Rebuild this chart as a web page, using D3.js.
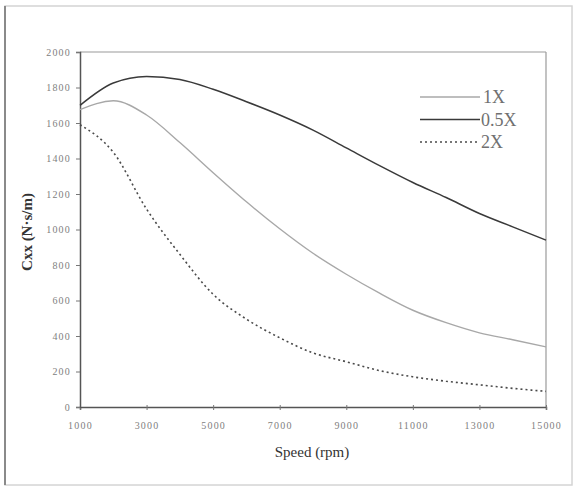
<!DOCTYPE html>
<html>
<head>
<meta charset="utf-8">
<script src="https://cdn.jsdelivr.net/npm/d3@7"></script>
<style>
  body { margin: 0; background: #fff; }
  svg { display: block; font-family: "Liberation Serif", "DejaVu Serif", serif; }
</style>
</head>
<body>
<div id="chart"></div>
<script>
(function () {

  // Data
  const speeds = [1000, 2000, 3000, 4000, 5000, 6000, 7000, 8000, 9000, 10000, 11000, 12000, 13000, 14000, 15000]
  const c1x  = [1675, 1725, 1645, 1490, 1320, 1156, 1004, 866, 748, 641, 545, 475, 418, 379, 339]
  const c05x = [1699, 1825, 1862, 1845, 1790, 1720, 1645, 1560, 1460, 1360, 1265, 1180, 1090, 1015, 940]
  const c2x  = [1590, 1435, 1115, 860, 635, 495, 390, 305, 255, 205, 170, 145, 125, 105, 88]
  const xTicks = [1000, 3000, 5000, 7000, 9000, 11000, 13000, 15000]
  const yTicks = [0, 200, 400, 600, 800, 1000, 1200, 1400, 1600, 1800, 2000]

  const series = [
    { name: "1X",   values: c1x,  color: "#a8a8a8", width: 1.4, dash: null },
    { name: "0.5X", values: c05x, color: "#3a3a3a", width: 1.5, dash: null },
    { name: "2X",   values: c2x,  color: "#4a4a4a", width: 1.6, dash: "2,3" }
  ]

  // Margin convention
  const margin = { top: 52, right: 28, bottom: 80, left: 80 }
  const W = 574, H = 487
  const width = W - margin.left - margin.right
  const height = H - margin.top - margin.bottom

  const root = d3.select("#chart").append("svg")
      .attr("width", W)
      .attr("height", H)

  // outer frame
  root.append("rect")
      .attr("x", 5).attr("y", 6)
      .attr("width", 567).attr("height", 479)
      .attr("fill", "none")
      .attr("stroke", "#d4d4d4")
      .attr("stroke-width", 1.5)
  root.append("line")
      .attr("x1", 5).attr("x2", 5).attr("y1", 6).attr("y2", 485)
      .attr("stroke", "#8a8a8a").attr("stroke-width", 2)

  const svg = root.append("g")
      .attr("transform", "translate(" + margin.left + "," + margin.top + ")")

  const x = d3.scaleLinear().domain([1000, 15000]).range([0, width])
  const y = d3.scaleLinear().domain([0, 2000]).range([height, 0])

  // plot box (top & right lighter)
  svg.append("line")
      .attr("x1", 0).attr("x2", width).attr("y1", 0).attr("y2", 0)
      .attr("stroke", "#9a9a9a").attr("stroke-width", 1.2)
  svg.append("line")
      .attr("x1", width).attr("x2", width).attr("y1", 0).attr("y2", height)
      .attr("stroke", "#9a9a9a").attr("stroke-width", 1.2)

  // Axes
  const xAxis = svg.append("g")
      .attr("transform", "translate(0," + height + ")")
      .call(d3.axisBottom(x).tickValues(xTicks).tickSize(3).tickPadding(12).tickFormat(d3.format("d")))
  const yAxis = svg.append("g")
      .call(d3.axisLeft(y).tickValues(yTicks).tickSize(4).tickPadding(5).tickFormat(d3.format("d")))

  ;[xAxis, yAxis].forEach(a => {
    a.select(".domain").attr("stroke", "#555").attr("stroke-width", 1.5)
    a.selectAll(".tick line").attr("stroke", "#777")
    a.selectAll(".tick text")
      .attr("fill", "#808080")
      .style("font-size", "10px")
      .style("letter-spacing", "1.2px")
      .style("font-family", "Liberation Serif, serif")
  })
  xAxis.selectAll(".tick line").attr("y1", -2)

  // Lines
  const line = d3.line()
      .x((d, i) => x(speeds[i]))
      .y(d => y(d))
      .curve(d3.curveMonotoneX)

  svg.selectAll(".series")
      .data(series)
      .join("path")
      .attr("class", "series")
      .attr("d", d => line(d.values))
      .attr("fill", "none")
      .attr("stroke", d => d.color)
      .attr("stroke-width", d => d.width)
      .attr("stroke-dasharray", d => d.dash)

  // Legend
  const legend = svg.append("g")
      .attr("transform", "translate(340,45)")
  series.forEach((s, i) => {
    const ly = i * 22.5
    legend.append("line")
        .attr("x1", 0).attr("x2", 60)
        .attr("y1", ly).attr("y2", ly)
        .attr("stroke", s.color)
        .attr("stroke-width", i == 1 ? 1.3 : s.width)
        .attr("stroke-dasharray", s.dash)
    legend.append("text")
        .attr("x", i == 0 ? 63 : 61)
        .attr("y", ly + 6)
        .attr("fill", "#707070")
        .style("font-size", "18px")
        .text(s.name)
  })

  // Axis titles
  root.append("text")
      .attr("x", 312).attr("y", 457)
      .attr("text-anchor", "middle")
      .attr("fill", "#333")
      .style("font-size", "15px")
      .text("Speed (rpm)")

  root.append("text")
      .attr("transform", "translate(32,232) rotate(-90)")
      .attr("text-anchor", "middle")
      .attr("fill", "#333")
      .style("font-size", "15px")
      .style("font-weight", "bold")
      .text("Cxx (N·s/m)")

})();
</script>
</body>
</html>
